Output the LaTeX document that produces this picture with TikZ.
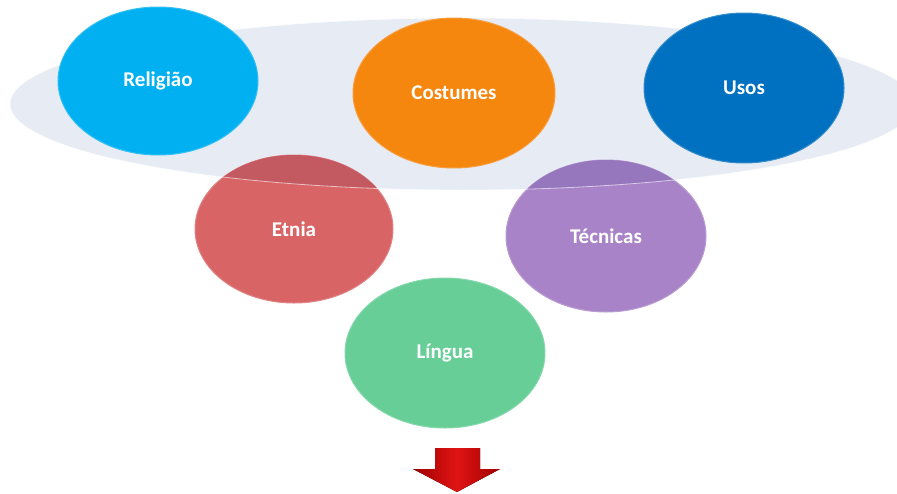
\documentclass[tikz,border=0pt]{standalone}
\usepackage{fontspec}
\setmainfont{Carlito}
\usetikzlibrary{shapes.geometric}
\definecolor{pale}{HTML}{E6EBF4}
\definecolor{rel}{HTML}{00B0F0}
\definecolor{cos}{HTML}{F5860E}
\definecolor{uso}{HTML}{0070C0}
\definecolor{etn}{HTML}{D96466}
\definecolor{etnd}{HTML}{C35A61}
\definecolor{tec}{HTML}{A883C7}
\definecolor{tecd}{HTML}{9677BE}
\definecolor{lin}{HTML}{67CE97}
\definecolor{arrd}{HTML}{A00000}
\definecolor{arrl}{HTML}{E01414}
\begin{document}
\begin{tikzpicture}[x=1pt,y=-1pt,
  blob/.style={ellipse, inner sep=0pt, outer sep=0pt, text=white,
    font=\fontsize{21}{25}\selectfont\bfseries, line width=1pt,
    minimum width=200pt, minimum height=150pt}]
\useasboundingbox (0,0) rectangle (897,493);
% pale band
\fill[pale] (462,104) ellipse [x radius=452, y radius=86];
% second row
\node[blob, fill=etn, draw=etn!80!white, minimum width=198pt, minimum height=148pt] (etnia) at (294,229) {Etnia};
\node[blob, fill=tec, draw=tec!80!white, minimum height=152pt] (tecnicas) at (606,236) {Técnicas};
\begin{scope}
  \clip (462,104) ellipse [x radius=452, y radius=86];
  \fill[etnd] (etnia.center) ellipse [x radius=99, y radius=74];
  \fill[tecd] (tecnicas.center) ellipse [x radius=100, y radius=76];
\end{scope}
\draw[white, opacity=0.6, line width=0.8pt] (462,104) ellipse [x radius=452, y radius=86];
% third row
\node[blob, fill=lin, draw=lin!80!white] (lingua) at (445,353) {Língua};
% top row
\node[blob, fill=rel, draw=rel!80!white, minimum height=148pt] (religiao) at (158,81) {Religião};
\node[blob, fill=cos, draw=cos!80!white, minimum width=202pt] (costumes) at (454,93) {Costumes};
\node[blob, fill=uso, draw=uso!80!white] (usos) at (744,88) {Usos};
% arrow
\fill[left color=arrd, right color=arrd, middle color=arrl]
  (435,448) -- (480,448) -- (480,469) -- (500,469) -- (457,492) -- (413,469) -- (435,469) -- cycle;
\end{tikzpicture}
\end{document}
